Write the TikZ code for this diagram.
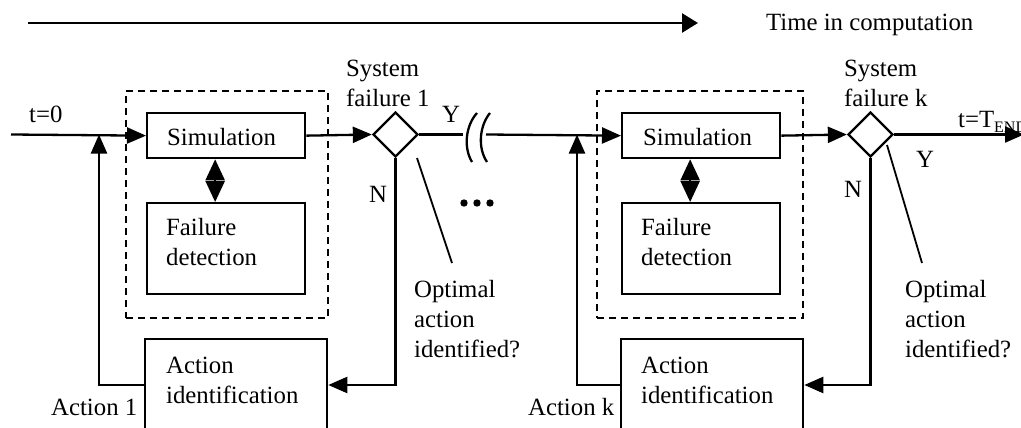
\documentclass[tikz,border=0pt]{standalone}
\usepackage{fontspec}
\setmainfont{Liberation Serif}
\usetikzlibrary{arrows.meta,shapes.geometric,calc}
\newcommand\mylines[1]{\begin{tabular}[t]{@{}l@{}}#1\end{tabular}}
\begin{document}
\begin{tikzpicture}[x=1pt,y=-1pt, line width=2.3pt,
  every node/.style={font=\fontsize{24.8}{30}\selectfont},
  tip/.style={-{Triangle[length=19pt,width=16pt]}},
  tipbig/.style={-{Triangle[length=16pt,width=19pt]}},
  dbl/.style={{Triangle[length=21pt,width=19pt]}-{Triangle[length=21pt,width=19pt]}},
  box/.style={draw, rectangle, inner sep=0pt, anchor=north west},
  dbox/.style={draw, dash pattern=on 7pt off 5pt, line width=2pt, rectangle, inner sep=0pt, anchor=north west},
  dia/.style={draw, diamond, minimum width=45pt, minimum height=45pt, inner sep=0pt},
  txt/.style={inner sep=0pt, anchor=base west},
  thin/.style={line width=1.8pt}]
\clip (0,0) rectangle (1021,428);
\fill[white] (0,0) rectangle (1021,428);
% top time arrow
\coordinate (ta) at (28,23);
\coordinate (tb) at (698,23);
\draw[tipbig, line width=2.6pt] (ta) -- (tb);
\node[txt] (time) at (765,31) {Time in computation};

% ---------- panel 1 ----------
\node[dbox, minimum width=202pt, minimum height=227pt] (dash1) at (125,90) {};
\node[box, minimum width=158pt, minimum height=45pt] (sim1) at (146,112) {};
\node[txt] (sim1t) at (166,145) {Simulation};
\node[box, minimum width=158pt, minimum height=91pt] (fd1) at (146,202) {};
\node[txt] (fd1t) at (165,235) {\mylines{Failure\\detection}};
\node[box, minimum width=182pt, minimum height=130pt] (act1) at (144,338) {};
\node[txt] (act1t) at (165,373) {\mylines{Action\\identification}};
\node[dia] (d1) at (395.5,134.5) {};
\node[txt] (sys1) at (345,77) {\mylines{System\\failure 1}};
\node[txt] (y1) at (441,123) {Y};
\node[txt] (n1) at (368,202) {N};
\node[txt] (opt1) at (413,297) {\mylines{Optimal\\action\\identified?}};
\node[txt] (a1) at (50,415) {Action 1};
\node[txt] (t0) at (28,122) {t=0};

\coordinate (s0) at (11,134.5);
\draw[tip] (s0) -- (sim1.west);
\draw[tip] (sim1.east) -- (d1.west);
\draw[dbl] ($(sim1.south)+(-11,0)$) -- ($(fd1.north)+(-11,0)$);
\coordinate (b1) at (463,134.5);
\draw (d1.east) -- (b1);
\draw (477,113) .. controls (466,125) and (463,147) .. (472,162);
\draw (490,113) .. controls (480,125) and (477,147) .. (487,162);
\coordinate (b2) at (486,134.5);
\coordinate (c1) at (395.5,385);
\draw[tip] (d1.south) -- (c1) -- (c1 -| act1.east);
\coordinate (f1) at (99,385);
\draw[tip] (act1.west |- c1) -- (f1) -- (f1 |- s0);
\coordinate (l1a) at (417,158);
\coordinate (l1b) at (452,263);
\draw[thin] (l1a) -- (l1b);
\fill (464,203) circle (3.7pt) (477,203) circle (3.7pt) (490,203) circle (3.7pt);

% ---------- panel 2 ----------
\node[dbox, minimum width=206pt, minimum height=227pt] (dash2) at (596,90) {};
\node[box, minimum width=158pt, minimum height=45pt] (sim2) at (621,112) {};
\node[txt] (sim2t) at (642,145) {Simulation};
\node[box, minimum width=158pt, minimum height=91pt] (fd2) at (621,202) {};
\node[txt] (fd2t) at (640,235) {\mylines{Failure\\detection}};
\node[box, minimum width=182pt, minimum height=130pt] (act2) at (620,338) {};
\node[txt] (act2t) at (640,373) {\mylines{Action\\identification}};
\node[dia] (d2) at (870.5,134.5) {};
\node[txt] (sys2) at (843,77) {\mylines{System\\failure k}};
\node[txt] (y2) at (915,167) {Y};
\node[txt] (n2) at (843,197) {N};
\node[txt] (opt2) at (904,297) {\mylines{Optimal\\action\\identified?}};
\node[txt] (ak) at (527,415) {Action k};
\node[txt] (tend) at (957,128) {t=T\raisebox{-5pt}{\fontsize{16}{16}\selectfont END}};

\draw[tip] (b2) -- (sim2.west);
\draw[tip] (sim2.east) -- (d2.west);
\draw[dbl] ($(sim2.south)+(-11,0)$) -- ($(fd2.north)+(-11,0)$);
\coordinate (e) at (1024,134.5);
\draw[tip] (d2.east) -- (e);
\coordinate (c2) at (870.5,385);
\draw[tip] (d2.south) -- (c2) -- (c2 -| act2.east);
\coordinate (f2) at (577,385);
\draw[tip] (act2.west |- c2) -- (f2) -- (f2 |- s0);
\coordinate (l2a) at (887,145);
\coordinate (l2b) at (922,263);
\draw[thin] (l2a) -- (l2b);
\end{tikzpicture}
\end{document}
